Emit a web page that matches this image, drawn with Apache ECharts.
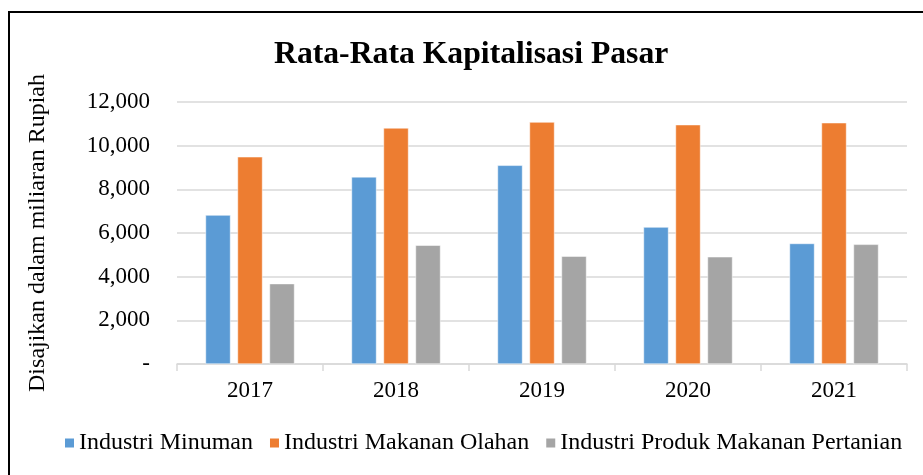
<!DOCTYPE html>
<html><head><meta charset="utf-8">
<script src="https://cdn.jsdelivr.net/npm/echarts@6/dist/echarts.min.js"></script>
<style>html,body{margin:0;padding:0;background:#fff}#c{width:923px;height:475px}</style>
</head><body><div id="c"></div>
<script>
const years = ['2017','2018','2019','2020','2021'];
const minuman = [6820, 8570, 9100, 6270, 5520];
const makananOlahan = [9490, 10810, 11080, 10960, 11050];
const produkPertanian = [3680, 5440, 4940, 4910, 5480];
const seriesNames = ['Industri Minuman','Industri Makanan Olahan','Industri Produk Makanan Pertanian'];
const colors = ['#5B9BD5','#ED7D31','#A5A5A5'];
const font = 'Liberation Serif, Times New Roman, serif';

const chart = echarts.init(document.getElementById('c'));
const mk = (name, data, color) => ({
  name, type:'bar', data, barWidth:25, barGap:'28%',
  itemStyle:{color, borderColor:'#ffffff', borderWidth:0.5}
});
chart.setOption({
  animation:false,
  textStyle:{fontFamily:font},
  graphic:[{type:'rect', shape:{x:9, y:12, width:930, height:480}, style:{fill:'none', stroke:'#000', lineWidth:2}, silent:true}],
  title:{text:'Rata-Rata Kapitalisasi Pasar', left:269, top:34,
    textStyle:{fontFamily:font, fontSize:31.7, fontWeight:'bold', color:'#000'}},
  legend:{data:seriesNames, top:426, left:58, itemWidth:11, itemHeight:11, itemGap:15,
    icon:'rect', textStyle:{fontFamily:font, fontSize:24, color:'#000', padding:[0,0,0,-1]}},
  grid:{left:177, right:16, top:102, bottom:111, containLabel:false},
  xAxis:{type:'category', data:years,
    axisLine:{lineStyle:{color:'#d9d9d9', width:1.5}},
    axisTick:{show:true, length:7, lineStyle:{color:'#d9d9d9', width:1.5}},
    axisLabel:{fontFamily:font, fontSize:23, color:'#000', margin:15}},
  yAxis:{type:'value', min:0, max:12000, interval:2000,
    name:'Disajikan dalam miliaran Rupiah', nameLocation:'middle', nameGap:127, nameRotate:90,
    nameTextStyle:{fontFamily:font, fontSize:24, color:'#000'},
    axisLine:{show:false}, axisTick:{show:false},
    splitLine:{lineStyle:{color:'#d9d9d9', width:1.5}},
    axisLabel:{fontFamily:font, fontSize:23, color:'#000', margin:27,
      formatter:v => v===0 ? '-' : v.toLocaleString('en-US')}},
  series:[mk(seriesNames[0], minuman, colors[0]), mk(seriesNames[1], makananOlahan, colors[1]), mk(seriesNames[2], produkPertanian, colors[2])]
});
</script></body></html>
